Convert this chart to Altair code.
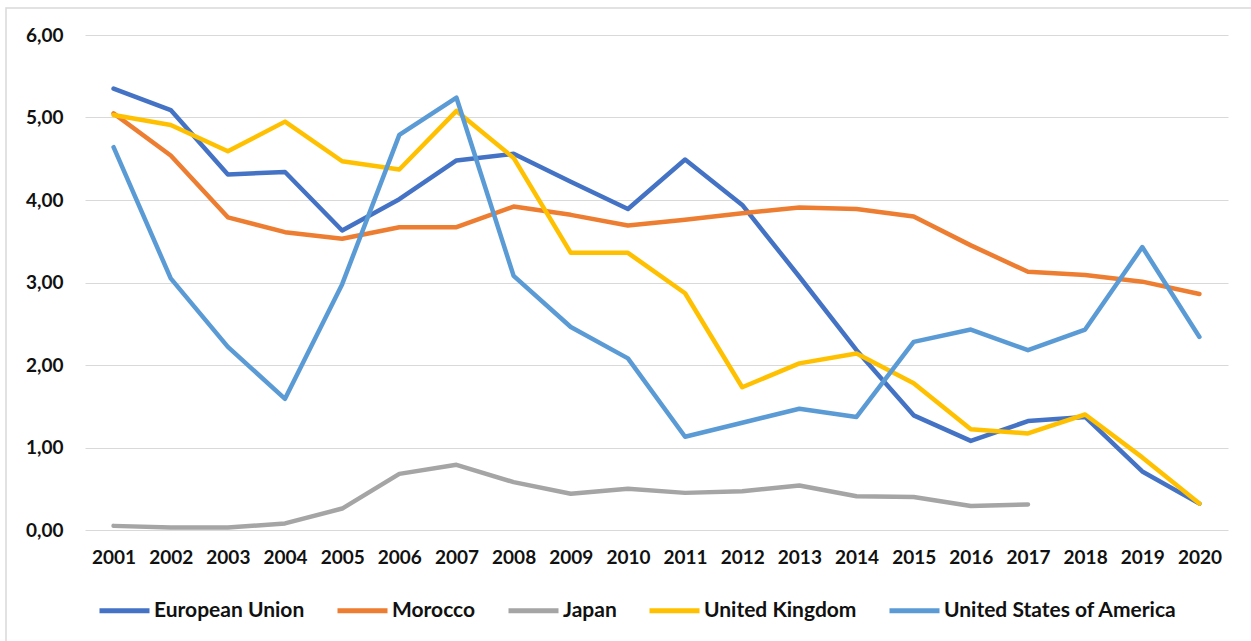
import altair as alt
import pandas as pd

# Years on the category axis
years = [str(y) for y in range(2001, 2021)]

# Series values (Japan stops after 2017)
eu = [5.35, 5.09, 4.31, 4.34, 3.63, 4.01, 4.48, 4.56, 4.22, 3.89,
      4.49, 3.94, 3.07, 2.18, 1.39, 1.08, 1.32, 1.37, 0.71, 0.32]
morocco = [5.05, 4.54, 3.79, 3.61, 3.53, 3.67, 3.67, 3.92, 3.82, 3.69,
           3.76, 3.84, 3.91, 3.89, 3.80, 3.45, 3.13, 3.09, 3.01, 2.86]
japan = [0.05, 0.03, 0.03, 0.08, 0.26, 0.68, 0.79, 0.58, 0.44, 0.50,
         0.45, 0.47, 0.54, 0.41, 0.40, 0.29, 0.31]
uk = [5.03, 4.91, 4.59, 4.95, 4.47, 4.37, 5.08, 4.51, 3.36, 3.36,
      2.87, 1.73, 2.02, 2.14, 1.78, 1.22, 1.17, 1.40, 0.88, 0.32]
usa = [4.64, 3.05, 2.22, 1.59, 2.98, 4.79, 5.24, 3.08, 2.46, 2.08,
       1.13, 1.30, 1.47, 1.37, 2.28, 2.43, 2.18, 2.43, 3.43, 2.34]

series_names = ["European Union", "Morocco", "Japan", "United Kingdom",
                "United States of America"]
series_values = [eu, morocco, japan, uk, usa]
series_colors = ["#4472C4", "#ED7D31", "#A5A5A5", "#FFC000", "#5B9BD5"]
y_ticks = [0, 1, 2, 3, 4, 5, 6]

rows = []
for name, vals in zip(series_names, series_values):
    for yr, v in zip(years, vals):
        rows.append({"year": yr, "value": v, "series": name})
df = pd.DataFrame(rows)

FONT = "Lato"
TEXT = "#111111"
GRID = "#D9D9D9"

lines = alt.Chart(df).mark_line(
    strokeWidth=4.5, strokeCap="round", strokeJoin="round"
).encode(
    x=alt.X("year:O", sort=years, title=None,
            scale=alt.Scale(type="point", padding=0.5),
            axis=alt.Axis(labelAngle=0, grid=False, domain=False, ticks=False,
                          tickSize=0, labelPadding=18, labelFont=FONT,
                          labelFontSize=19, labelFontWeight="bold",
                          labelColor=TEXT)),
    y=alt.Y("value:Q", title=None,
            scale=alt.Scale(domain=[0, 6], nice=False),
            axis=alt.Axis(values=y_ticks, grid=True, gridColor=GRID,
                          gridWidth=1.2, domain=False, ticks=False, tickSize=0,
                          labelPadding=22, labelFont=FONT, labelFontSize=19,
                          labelFontWeight="bold", labelColor=TEXT,
                          labelExpr="replace(format(datum.value, '.2f'), '.', ',')")),
    color=alt.Color("series:N", sort=series_names,
                    scale=alt.Scale(domain=series_names, range=series_colors),
                    legend=alt.Legend(title=None, orient="none", direction="horizontal",
                                      legendX=12, legendY=548, padding=0,
                                      symbolType="stroke", symbolSize=2500,
                                      symbolStrokeWidth=5, labelOffset=2,
                                      columnPadding=22, labelFont=FONT,
                                      labelFontSize=21, labelFontWeight="bold",
                                      labelColor=TEXT, labelLimit=400)),
)

# Thin frame around the chart area
frame = alt.Chart(pd.DataFrame({"k": [0]})).mark_rect(
    fill=None, stroke=GRID, strokeWidth=1.5
).encode(
    x=alt.value(-79), x2=alt.value(1300),
    y=alt.value(-27), y2=alt.value(700),
)

chart = alt.layer(frame, lines).properties(
    width=1143, height=495,
    padding={"left": 85, "top": 35, "right": 23, "bottom": 111},
    autosize=alt.AutoSizeParams(type="none"),
    background="white",
).configure_view(stroke=None)

chart.save("out.html", embed_options={"renderer": "svg", "actions": False})
